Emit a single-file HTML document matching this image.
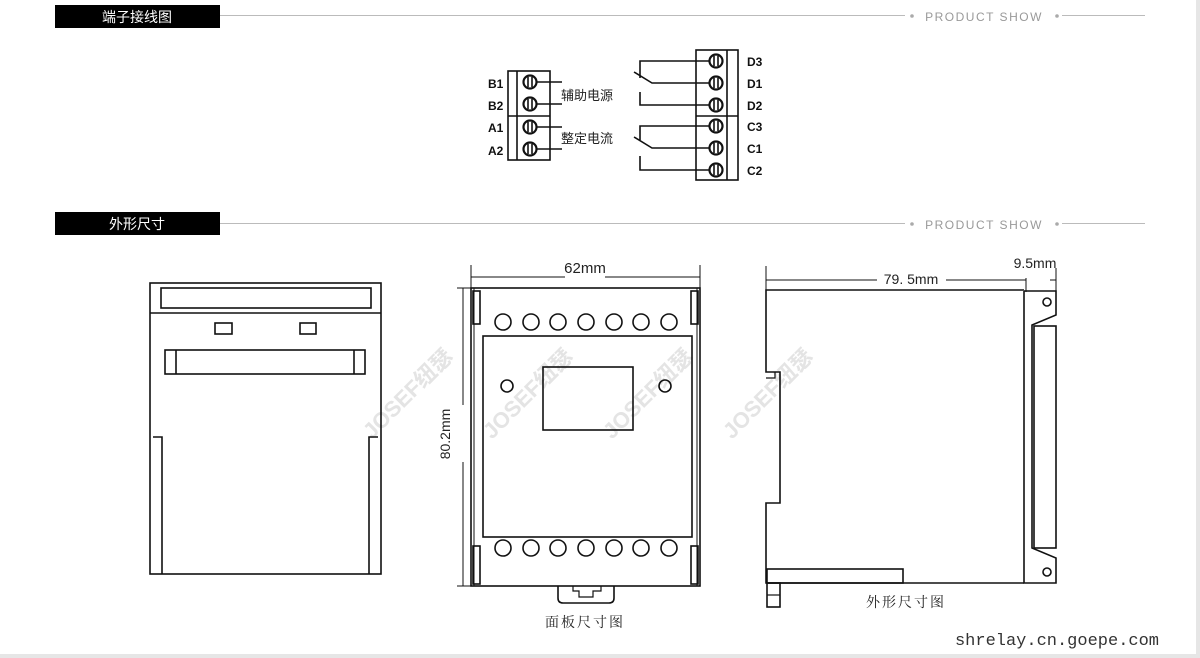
<!DOCTYPE html>
<html><head><meta charset="utf-8"><style>
html,body{margin:0;padding:0;background:#fff;}
svg{display:block;}
text{font-family:"Liberation Sans","Noto Sans CJK SC",sans-serif;}
text.serif{font-family:"Liberation Serif","Noto Serif CJK SC",serif;}
text.mono{font-family:"Liberation Mono",monospace;}
</style></head><body>
<svg width="1200" height="658" viewBox="0 0 1200 658" xmlns="http://www.w3.org/2000/svg">
<rect width="1200" height="658" fill="#fff"/>
<rect x="1196" y="0" width="4" height="658" fill="#e6e6e6"/>
<rect x="0" y="654" width="1200" height="4" fill="#e6e6e6"/>
<!-- headers -->
<rect x="55" y="5" width="165" height="23" fill="#000"/>
<text x="137" y="22" font-size="14" fill="#fff" text-anchor="middle">端子接线图</text>
<line x1="220" y1="15.5" x2="905" y2="15.5" stroke="#bbb"/>
<circle cx="912" cy="16" r="1.8" fill="#aaa"/>
<text x="984" y="21" font-size="12" fill="#999" text-anchor="middle" letter-spacing="1.5">PRODUCT SHOW</text>
<circle cx="1057" cy="16" r="1.8" fill="#aaa"/>
<line x1="1062" y1="15.5" x2="1145" y2="15.5" stroke="#bbb"/>
<rect x="55" y="212" width="165" height="23" fill="#000"/>
<text x="137" y="229" font-size="14" fill="#fff" text-anchor="middle">外形尺寸</text>
<line x1="220" y1="223.5" x2="905" y2="223.5" stroke="#bbb"/>
<circle cx="912" cy="224" r="1.8" fill="#aaa"/>
<text x="984" y="229" font-size="12" fill="#999" text-anchor="middle" letter-spacing="1.5">PRODUCT SHOW</text>
<circle cx="1057" cy="224" r="1.8" fill="#aaa"/>
<line x1="1062" y1="223.5" x2="1145" y2="223.5" stroke="#bbb"/>

<!-- watermarks -->
<g fill="#e4e4e4" font-size="22" font-weight="bold">
<text transform="translate(372,440) rotate(-45)">JOSEF纽瑟</text>
<text transform="translate(492,440) rotate(-45)">JOSEF纽瑟</text>
<text transform="translate(612,440) rotate(-45)">JOSEF纽瑟</text>
<text transform="translate(732,440) rotate(-45)">JOSEF纽瑟</text>
</g>

<g stroke="#111" stroke-width="1.6" fill="none">
<rect x="508" y="71" width="42" height="89"/>
<line x1="517" y1="71" x2="517" y2="160"/>
<line x1="508" y1="116" x2="550" y2="116"/>
<line x1="537" y1="82" x2="562" y2="82"/>
<line x1="537" y1="104" x2="562" y2="104"/>
<line x1="537" y1="127" x2="562" y2="127"/>
<line x1="537" y1="149" x2="562" y2="149"/>
<rect x="696" y="50" width="42" height="130"/>
<line x1="727" y1="50" x2="727" y2="180"/>
<line x1="696" y1="116" x2="738" y2="116"/>
<polyline points="640,78 640,61 709,61"/>
<polyline points="634,72 652,83 709,83"/>
<polyline points="640,92 640,105 709,105"/>
<polyline points="640,140 640,126 709,126"/>
<polyline points="634,137 652,148 709,148"/>
<polyline points="640,156 640,170 709,170"/>
</g>
<g stroke="#111" stroke-width="2.2" fill="#fff">
<circle cx="530" cy="82" r="6.5"/><circle cx="530" cy="104" r="6.5"/><circle cx="530" cy="127" r="6.5"/><circle cx="530" cy="149" r="6.5"/>
<circle cx="716" cy="61" r="6.5"/><circle cx="716" cy="83" r="6.5"/><circle cx="716" cy="105" r="6.5"/><circle cx="716" cy="126" r="6.5"/><circle cx="716" cy="148" r="6.5"/><circle cx="716" cy="170" r="6.5"/>
</g>
<g stroke="#111" stroke-width="1.6">
<line x1="528" y1="77" x2="528" y2="87"/><line x1="532" y1="77" x2="532" y2="87"/>
<line x1="528" y1="99" x2="528" y2="109"/><line x1="532" y1="99" x2="532" y2="109"/>
<line x1="528" y1="122" x2="528" y2="132"/><line x1="532" y1="122" x2="532" y2="132"/>
<line x1="528" y1="144" x2="528" y2="154"/><line x1="532" y1="144" x2="532" y2="154"/>
<line x1="714" y1="56" x2="714" y2="66"/><line x1="718" y1="56" x2="718" y2="66"/>
<line x1="714" y1="78" x2="714" y2="88"/><line x1="718" y1="78" x2="718" y2="88"/>
<line x1="714" y1="100" x2="714" y2="110"/><line x1="718" y1="100" x2="718" y2="110"/>
<line x1="714" y1="121" x2="714" y2="131"/><line x1="718" y1="121" x2="718" y2="131"/>
<line x1="714" y1="143" x2="714" y2="153"/><line x1="718" y1="143" x2="718" y2="153"/>
<line x1="714" y1="165" x2="714" y2="175"/><line x1="718" y1="165" x2="718" y2="175"/>
</g>
<g font-size="12" font-weight="bold" fill="#111">
<text x="488" y="88">B1</text><text x="488" y="110">B2</text><text x="488" y="132">A1</text><text x="488" y="155">A2</text>
<text x="747" y="66">D3</text><text x="747" y="88">D1</text><text x="747" y="110">D2</text><text x="747" y="131">C3</text><text x="747" y="153">C1</text><text x="747" y="175">C2</text>
</g>
<g font-size="13" fill="#222">
<text x="561" y="100">辅助电源</text><text x="561" y="143">整定电流</text>
</g>

<g stroke="#111" stroke-width="1.6" fill="none">
<rect x="150" y="283" width="231" height="291"/>
<line x1="150" y1="313" x2="381" y2="313"/>
<rect x="161" y="288" width="210" height="20"/>
<rect x="215" y="323" width="17" height="11"/>
<rect x="300" y="323" width="16" height="11"/>
<rect x="165" y="350" width="200" height="24"/>
<line x1="176" y1="350" x2="176" y2="374"/>
<line x1="354" y1="350" x2="354" y2="374"/>
<polyline points="153,437 162,437 162,574"/>
<polyline points="378,437 369,437 369,574"/>

<line x1="471" y1="265" x2="471" y2="290" stroke-width="1"/>
<line x1="700" y1="265" x2="700" y2="290" stroke-width="1"/>
<line x1="471" y1="277" x2="565" y2="277" stroke-width="1"/>
<line x1="605" y1="277" x2="700" y2="277" stroke-width="1"/>
<line x1="463" y1="288" x2="463" y2="405" stroke-width="1"/>
<line x1="463" y1="462" x2="463" y2="586" stroke-width="1"/>
<line x1="457" y1="288" x2="474" y2="288" stroke-width="1"/>
<line x1="457" y1="586" x2="474" y2="586" stroke-width="1"/>
<rect x="471" y="288" width="229" height="298"/>
<line x1="474" y1="288" x2="474" y2="586" stroke-width="1"/>
<line x1="697" y1="288" x2="697" y2="586" stroke-width="1"/>
<rect x="473" y="291" width="7" height="33"/>
<rect x="691" y="291" width="7" height="33"/>
<rect x="473" y="546" width="7" height="38"/>
<rect x="691" y="546" width="7" height="38"/>
<rect x="483" y="336" width="209" height="201"/>
<rect x="543" y="367" width="90" height="63"/>
<circle cx="507" cy="386" r="6"/><circle cx="665" cy="386" r="6"/>
<circle cx="503" cy="322" r="8"/><circle cx="531" cy="322" r="8"/><circle cx="558" cy="322" r="8"/><circle cx="586" cy="322" r="8"/><circle cx="614" cy="322" r="8"/><circle cx="641" cy="322" r="8"/><circle cx="669" cy="322" r="8"/>
<circle cx="503" cy="548" r="8"/><circle cx="531" cy="548" r="8"/><circle cx="558" cy="548" r="8"/><circle cx="586" cy="548" r="8"/><circle cx="614" cy="548" r="8"/><circle cx="641" cy="548" r="8"/><circle cx="669" cy="548" r="8"/>
<path d="M558,586 L558,598 Q558,603 563,603 L609,603 Q614,603 614,598 L614,586"/>
<polyline points="573,586 573,591 579,591 579,597 593,597 593,591 601,591 601,586" stroke-width="1.2"/>

<line x1="766" y1="266" x2="766" y2="290" stroke-width="1"/>
<line x1="1026" y1="278" x2="1026" y2="292" stroke-width="1"/>
<line x1="1056" y1="268" x2="1056" y2="292" stroke-width="1"/>
<line x1="766" y1="280" x2="877" y2="280" stroke-width="1"/>
<line x1="946" y1="280" x2="1026" y2="280" stroke-width="1"/>
<line x1="1050" y1="280" x2="1056" y2="280" stroke-width="1"/>
<polyline points="1024,290 766,290 766,372 780,372 780,503 766,503 766,583 1024,583"/>
<polyline points="766,378 775,378 775,372" stroke-width="1.2"/>
<rect x="767" y="569" width="136" height="14"/>
<rect x="767" y="583" width="13" height="24"/>
<line x1="767" y1="595" x2="780" y2="595" stroke-width="1.2"/>
<polyline points="1024,291 1056,291 1056,315 1032,325 1032,548 1056,558 1056,583 1024,583 1024,291"/>
<rect x="1034" y="326" width="22" height="222"/>
<circle cx="1047" cy="302" r="4"/><circle cx="1047" cy="572" r="4"/>
</g>
<g fill="#222">
<text x="585" y="273" font-size="15" text-anchor="middle">62mm</text>
<text transform="translate(450,434) rotate(-90)" font-size="14" text-anchor="middle">80.2mm</text>
<text x="911" y="284" font-size="14" text-anchor="middle">79. 5mm</text>
<text x="1035" y="268" font-size="14" text-anchor="middle">9.5mm</text>
<text class="serif" x="585" y="627" font-size="14" text-anchor="middle" letter-spacing="2">面板尺寸图</text>
<text class="serif" x="906" y="607" font-size="14" text-anchor="middle" letter-spacing="2">外形尺寸图</text>
<text class="mono" x="1057" y="645" font-size="17" text-anchor="middle" fill="#333">shrelay.cn.goepe.com</text>
</g>
</svg>
</body></html>
